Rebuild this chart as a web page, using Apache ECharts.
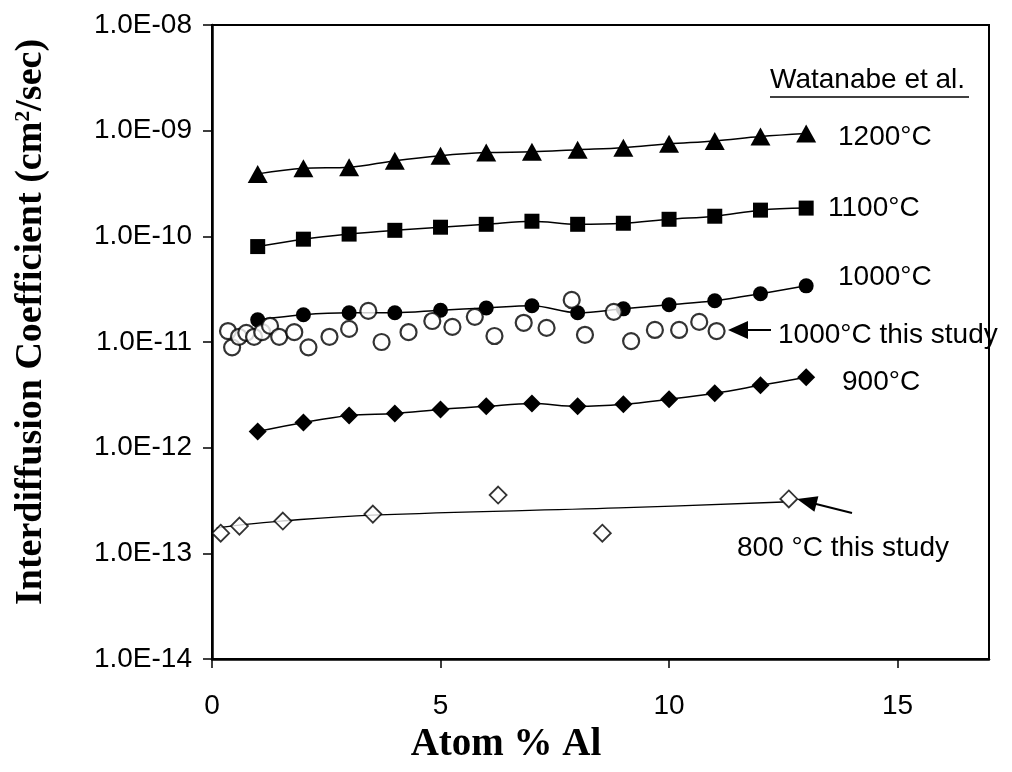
<!DOCTYPE html>
<html>
<head>
<meta charset="utf-8">
<script src="https://cdn.jsdelivr.net/npm/echarts@6/dist/echarts.min.js"></script>
<style>
html,body{margin:0;padding:0;background:#fff;}
#chart{width:1012px;height:772px;}
</style>
</head>
<body>
<div id="chart"></div>
<script>
// ---- data ----
const xTicks = [0, 5, 10, 15];
const yTicks = [1e-14, 1e-13, 1e-12, 1e-11, 1e-10, 1e-9, 1e-8];

const watanabeX = [1, 2, 3, 4, 5, 6, 7, 8, 9, 10, 11, 12, 13];
const d1200 = [3.9e-10, 4.4e-10, 4.5e-10, 5.2e-10, 5.8e-10, 6.2e-10, 6.3e-10, 6.6e-10, 6.9e-10, 7.5e-10, 8.0e-10, 8.8e-10, 9.4e-10];
const d1100 = [8.0e-11, 9.4e-11, 1.05e-10, 1.14e-10, 1.22e-10, 1.30e-10, 1.39e-10, 1.30e-10, 1.33e-10, 1.45e-10, 1.55e-10, 1.77e-10, 1.85e-10];
const d1000 = [1.62e-11, 1.81e-11, 1.89e-11, 1.89e-11, 2.0e-11, 2.1e-11, 2.2e-11, 1.89e-11, 2.06e-11, 2.25e-11, 2.46e-11, 2.86e-11, 3.4e-11];
const d900 = [1.42e-12, 1.73e-12, 2.02e-12, 2.11e-12, 2.30e-12, 2.46e-12, 2.62e-12, 2.46e-12, 2.57e-12, 2.87e-12, 3.27e-12, 3.89e-12, 4.64e-12];

const study1000X = [0.35, 0.44, 0.59, 0.75, 0.92, 1.10, 1.27, 1.47, 1.80, 2.11, 2.57, 3.0, 3.42, 3.71, 4.30, 4.82, 5.26, 5.75, 6.18, 6.82, 7.32, 7.87, 8.16, 8.79, 9.17, 9.69, 10.22, 10.66, 11.04];
const study1000Y = [1.27e-11, 8.9e-12, 1.12e-11, 1.22e-11, 1.12e-11, 1.24e-11, 1.42e-11, 1.12e-11, 1.24e-11, 8.9e-12, 1.12e-11, 1.33e-11, 1.97e-11, 1.0e-11, 1.24e-11, 1.58e-11, 1.39e-11, 1.73e-11, 1.14e-11, 1.52e-11, 1.36e-11, 2.5e-11, 1.17e-11, 1.93e-11, 1.02e-11, 1.30e-11, 1.30e-11, 1.55e-11, 1.27e-11];

const study800X = [0.19, 0.6, 1.55, 3.52, 6.26, 8.54, 12.62];
const study800Y = [1.55e-13, 1.81e-13, 2.02e-13, 2.35e-13, 3.56e-13, 1.55e-13, 3.27e-13];
const fit800X = [0.1, 0.6, 1.5, 3.5, 8.9, 12.5];
const fit800Y = [1.73e-13, 1.85e-13, 2.02e-13, 2.3e-13, 2.69e-13, 3.06e-13];

// ---- helpers ----
const zip = (xs, ys) => xs.map((x, i) => [x, ys[i]]);
const SANS = '"Liberation Sans", Arial, sans-serif';
const SERIF = '"Liberation Serif", "Times New Roman", serif';

function fmtE(v) {
  const e = Math.round(Math.log10(v));
  const a = Math.abs(e);
  return '1.0E' + (e < 0 ? '-' : '+') + (a < 10 ? '0' + a : '' + a);
}

const chart = echarts.init(document.getElementById('chart'), null, {renderer: 'canvas'});

const lineBase = {type: 'line', smooth: 0.35, lineStyle: {color: '#000', width: 1.5}, itemStyle: {color: '#000'}, showSymbol: true, z: 3};

function txt(x, y, text, extra) {
  return Object.assign({
    type: 'text', x: x, y: y, z: 100,
    style: {text: text, font: '28px ' + SANS, fill: '#000', textAlign: 'left', textVerticalAlign: 'middle', align: 'left', verticalAlign: 'middle'}
  }, extra || {});
}

const option = {
  animation: false,
  backgroundColor: '#fff',
  grid: {left: 212, top: 25, width: 777, height: 634, show: true, borderColor: '#000', borderWidth: 2, backgroundColor: 'transparent'},
  xAxis: {
    type: 'value', min: 0, max: 17, interval: 5,
    axisLine: {show: true, onZero: false, lineStyle: {color: '#000', width: 2.5}},
    axisTick: {show: true, inside: false, length: 9, lineStyle: {color: '#000', width: 1.5}, customValues: xTicks},
    axisLabel: {show: true, customValues: xTicks, fontSize: 28, fontFamily: SANS, color: '#000', margin: 33},
    splitLine: {show: false}
  },
  yAxis: {
    type: 'log', logBase: 10, min: 1e-14, max: 1e-8,
    axisLine: {show: true, lineStyle: {color: '#000', width: 2.5}},
    axisTick: {show: true, inside: false, length: 9, lineStyle: {color: '#000', width: 1.5}},
    axisLabel: {show: true, fontSize: 28, fontFamily: SANS, color: '#000', margin: 20, formatter: fmtE},
    splitLine: {show: false},
    minorTick: {show: false}
  },
  series: [
    Object.assign({}, lineBase, {name: '1200', data: zip(watanabeX, d1200), symbol: 'triangle', symbolSize: [20, 18]}),
    Object.assign({}, lineBase, {name: '1100', data: zip(watanabeX, d1100), symbol: 'rect', symbolSize: 15}),
    Object.assign({}, lineBase, {name: '1000', data: zip(watanabeX, d1000), symbol: 'circle', symbolSize: 15}),
    Object.assign({}, lineBase, {name: '900', data: zip(watanabeX, d900), symbol: 'diamond', symbolSize: 18}),
    {type: 'line', name: 'fit800', data: zip(fit800X, fit800Y), smooth: 0.4, showSymbol: false, symbol: 'none', lineStyle: {color: '#000', width: 1.3}, z: 3},
    {type: 'scatter', name: 'study800', data: zip(study800X, study800Y), symbol: 'diamond', symbolSize: 17,
     itemStyle: {color: '#fff', borderColor: '#000', borderWidth: 1.8}, z: 5},
    {type: 'scatter', name: 'study1000', data: zip(study1000X, study1000Y), symbol: 'circle', symbolSize: 16,
     itemStyle: {color: '#fff', borderColor: '#000', borderWidth: 2.2}, z: 5}
  ],
  graphic: [
    txt(770, 80, 'Watanabe et al.'),
    {type: 'line', z: 100, shape: {x1: 770, y1: 97, x2: 969, y2: 97}, style: {stroke: '#000', lineWidth: 1.5}},
    txt(838, 137, '1200°C'),
    txt(828, 208, '1100°C'),
    txt(838, 277, '1000°C'),
    txt(778, 335, '1000°C this study'),
    txt(842, 382, '900°C'),
    txt(737, 548, '800 °C this study'),
    // arrow for 1000°C this study
    {type: 'line', z: 100, shape: {x1: 744, y1: 330, x2: 771, y2: 330}, style: {stroke: '#000', lineWidth: 2}},
    {type: 'polygon', z: 100, shape: {points: [[728, 330], [748, 321], [748, 339]]}, style: {fill: '#000'}},
    // arrow for 800 °C this study
    {type: 'line', z: 100, shape: {x1: 812, y1: 503, x2: 852, y2: 513}, style: {stroke: '#000', lineWidth: 2}},
    {type: 'polygon', z: 100, shape: {points: [[797, 499], [814.4, 511.7], [818.4, 496.2]]}, style: {fill: '#000'}},
    // axis titles
    {type: 'text', x: 506, y: 745, z: 100,
     style: {text: 'Atom % Al', font: 'bold 39px ' + SERIF, fill: '#000', textAlign: 'center', textVerticalAlign: 'middle', align: 'center', verticalAlign: 'middle'}},
    {type: 'text', x: 31, y: 322, rotation: Math.PI / 2, z: 100,
     style: {
       text: '{a|Interdiffusion Coefficient (cm}{s|2}{a|/sec)}',
       rich: {
         a: {fontFamily: SERIF, fontWeight: 'bold', fontSize: 38, fill: '#000', color: '#000'},
         s: {fontFamily: SERIF, fontWeight: 'bold', fontSize: 22, fill: '#000', color: '#000', verticalAlign: 'top'}
       },
       fill: '#000', textAlign: 'center', textVerticalAlign: 'middle', align: 'center', verticalAlign: 'middle'
     }}
  ]
};

chart.setOption(option);
</script>
</body>
</html>
